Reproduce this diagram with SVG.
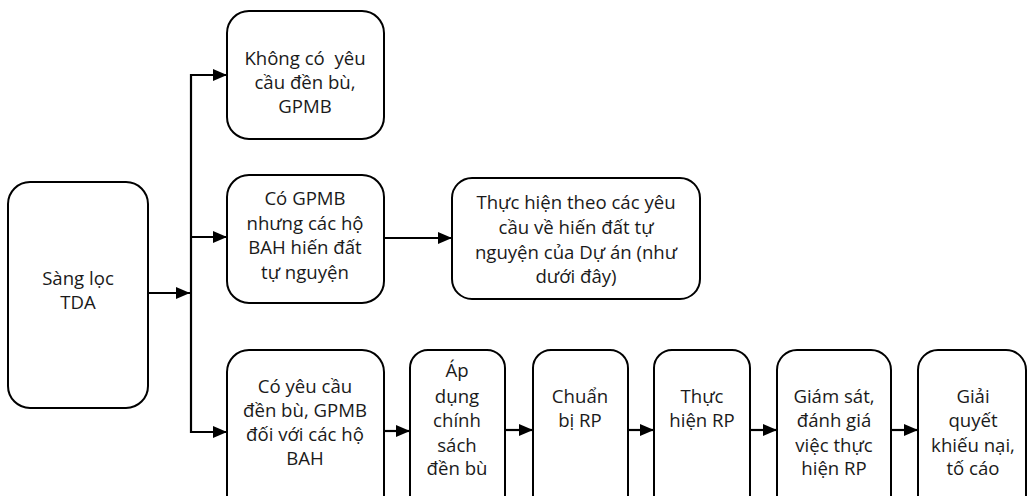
<svg xmlns="http://www.w3.org/2000/svg" width="1027" height="496" viewBox="0 0 1027 496">
<defs>
<marker id="ah" markerWidth="14" markerHeight="12" refX="14" refY="6" orient="auto" markerUnits="userSpaceOnUse">
<path d="M0,0 L14,6 L0,12 Z" fill="#000"/>
</marker>
<style>
.box{fill:#fff;stroke:#000;stroke-width:2}
.t{font-family:"Open Sans","Noto Sans",sans-serif;font-size:18.6px;fill:#1a1a1a;text-anchor:middle}
.c{fill:none;stroke:#000;stroke-width:2.2}
</style>
</defs>
<rect width="1027" height="496" fill="#fff"/>
<g id="connectors">
<line class="c" x1="191" y1="74" x2="191" y2="433"/>
<line class="c" x1="148" y1="293" x2="190" y2="293" marker-end="url(#ah)"/>
<line class="c" x1="190" y1="75" x2="227" y2="75" marker-end="url(#ah)"/>
<line class="c" x1="190" y1="237" x2="227" y2="237" marker-end="url(#ah)"/>
<line class="c" x1="190" y1="432" x2="227" y2="432" marker-end="url(#ah)"/>
<line class="c" x1="384" y1="238" x2="452" y2="238" marker-end="url(#ah)"/>
<line class="c" x1="384" y1="431" x2="410" y2="431" marker-end="url(#ah)"/>
<line class="c" x1="505" y1="430" x2="533" y2="430" marker-end="url(#ah)"/>
<line class="c" x1="628" y1="430" x2="654" y2="430" marker-end="url(#ah)"/>
<line class="c" x1="750" y1="430" x2="777" y2="430" marker-end="url(#ah)"/>
<line class="c" x1="891" y1="430" x2="918" y2="430" marker-end="url(#ah)"/>
</g>
<g id="n-sangloc">
<rect class="box" x="8" y="182" width="140" height="226" rx="22"/>
<text class="t" x="78" y="285">Sàng lọc</text>
<text class="t" x="78" y="309">TDA</text>
</g>
<g id="n-khong">
<rect class="box" x="227" y="11" width="157" height="128" rx="22"/>
<text class="t" x="305" y="65" xml:space="preserve">Không có  yêu</text>
<text class="t" x="305" y="89">cầu đền bù,</text>
<text class="t" x="305" y="113">GPMB</text>
</g>
<g id="n-cogpmb">
<rect class="box" x="227" y="175" width="157" height="128" rx="22"/>
<text class="t" x="305" y="205">Có GPMB</text>
<text class="t" x="305" y="230">nhưng các hộ</text>
<text class="t" x="305" y="254">BAH hiến đất</text>
<text class="t" x="305" y="279">tự nguyện</text>
</g>
<g id="n-thuchien-theo">
<rect class="box" x="452" y="178" width="248" height="121" rx="20"/>
<text class="t" x="576" y="209">Thực hiện theo các yêu</text>
<text class="t" x="576" y="234">cầu về hiến đất tự</text>
<text class="t" x="576" y="259">nguyện của Dự án (như</text>
<text class="t" x="576" y="283">dưới đây)</text>
</g>
<g id="n-coyeucau">
<rect class="box" x="227" y="350" width="157" height="170" rx="22"/>
<text class="t" x="305" y="393">Có yêu cầu</text>
<text class="t" x="305" y="417">đền bù, GPMB</text>
<text class="t" x="305" y="441">đối với các hộ</text>
<text class="t" x="305" y="465">BAH</text>
</g>
<g id="n-apdung">
<rect class="box" x="410" y="350" width="95" height="170" rx="18"/>
<text class="t" x="457" y="377">Áp</text>
<text class="t" x="457" y="403">dụng</text>
<text class="t" x="457" y="427">chính</text>
<text class="t" x="457" y="452">sách</text>
<text class="t" x="457" y="475">đền bù</text>
</g>
<g id="n-chuanbi">
<rect class="box" x="533" y="350" width="95" height="170" rx="18"/>
<text class="t" x="580" y="403">Chuẩn</text>
<text class="t" x="580" y="427">bị RP</text>
</g>
<g id="n-thuchien-rp">
<rect class="box" x="654" y="350" width="96" height="170" rx="18"/>
<text class="t" x="702" y="403">Thực</text>
<text class="t" x="702" y="427">hiện RP</text>
</g>
<g id="n-giamsat">
<rect class="box" x="777" y="350" width="114" height="170" rx="20"/>
<text class="t" x="834" y="403">Giám sát,</text>
<text class="t" x="834" y="427">đánh giá</text>
<text class="t" x="834" y="452">việc thực</text>
<text class="t" x="834" y="475">hiện RP</text>
</g>
<g id="n-giaiquyet">
<rect class="box" x="918" y="350" width="108" height="170" rx="20"/>
<text class="t" x="973" y="403">Giải</text>
<text class="t" x="973" y="427">quyết</text>
<text class="t" x="973" y="452">khiếu nại,</text>
<text class="t" x="973" y="475">tố cáo</text>
</g>
</svg>
